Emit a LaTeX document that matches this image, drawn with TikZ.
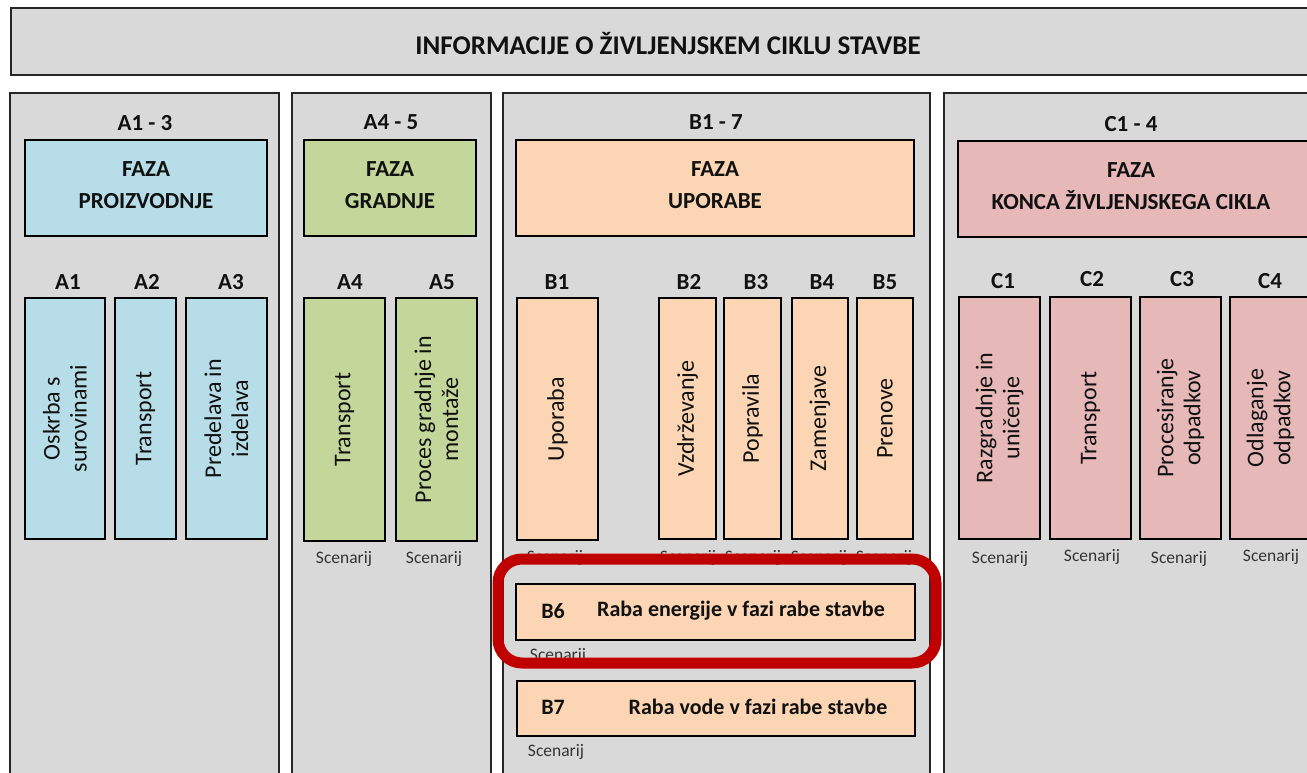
\documentclass[tikz,border=0pt]{standalone}
\usepackage{fontspec}
\setmainfont{Carlito}
\definecolor{pgray}{HTML}{D9D9D9}
\definecolor{cblue}{HTML}{B7DEE8}
\definecolor{cgreen}{HTML}{C4D79B}
\definecolor{corange}{HTML}{FCD5B4}
\definecolor{cpink}{HTML}{E6B8B7}
\definecolor{cred}{HTML}{C00000}
\definecolor{ink}{HTML}{111111}
\tikzset{
  panel/.style={draw=black!85, line width=2pt, fill=pgray},
  hdr/.style={font=\fontsize{23}{28}\selectfont\bfseries, text=ink, inner sep=0pt},
  phase/.style={draw=black, line width=2pt, font=\fontsize{23}{32}\selectfont\bfseries, text=ink, align=center, inner sep=0pt},
  phasetxt/.style={font=\fontsize{23}{32}\selectfont\bfseries, text=ink, align=center, inner sep=0pt},
  subbox/.style={rotate=90, draw=black, line width=2pt, inner sep=0pt, align=center, text=ink,
    font=\fontsize{24}{27}\selectfont},
  scen/.style={font=\fontsize{17.5}{19}\selectfont, text=black!80, inner sep=0pt},
  wide/.style={draw=black, line width=2pt, fill=corange, inner sep=0pt},
  widetxt/.style={font=\fontsize{22}{26}\selectfont\bfseries, text=ink, inner sep=0pt},
  redframe/.style={draw=cred, line width=11pt, rounded corners=24pt}
}
\begin{document}
\begin{tikzpicture}[x=1pt,y=-1pt]
\useasboundingbox (0,0) rectangle (1307,773);
\clip (0,0) rectangle (1307,773);
\fill[white] (0,0) rectangle (1307,773);

% title
\draw[panel] (11,8) rectangle (1340,75);
\node[font=\fontsize{27}{30}\selectfont\bfseries, text=ink, inner sep=0pt] (title) at (668,43) {INFORMACIJE O ŽIVLJENJSKEM CIKLU STAVBE};

% panels
\draw[panel] (10,93) rectangle (279,800);
\draw[panel] (292,93) rectangle (491,800);
\draw[panel] (503,93) rectangle (930,800);
\draw[panel] (944,93) rectangle (1340,800);

% panel labels
\node[hdr] (lA) at (145,123) {A1 - 3};
\node[hdr] (lAb) at (391,122) {A4 - 5};
\node[hdr] (lB) at (716,122) {B1 - 7};
\node[hdr] (lC) at (1131,124) {C1 - 4};

% phase boxes
\draw[draw=black, line width=2pt, fill=cblue] (25,140) rectangle (267,236);
\node[phasetxt] (fA) at (146,185) {FAZA\\PROIZVODNJE};
\draw[draw=black, line width=2pt, fill=cgreen] (304,140) rectangle (476,236);
\node[phasetxt] (fAb) at (390,185) {FAZA\\GRADNJE};
\draw[draw=black, line width=2pt, fill=corange] (516,140) rectangle (914,236);
\node[phasetxt] (fB) at (715,185) {FAZA\\UPORABE};
\draw[draw=black, line width=2pt, fill=cpink] (958,141) rectangle (1340,237);
\node[phasetxt] (fC) at (1131,186) {FAZA\\KONCA ŽIVLJENJSKEGA CIKLA};

% module labels
\node[hdr] (hA1) at (68,282) {A1};
\node[hdr] (hA2) at (147,282) {A2};
\node[hdr] (hA3) at (231,282) {A3};
\node[hdr] (hA4) at (350,282) {A4};
\node[hdr] (hA5) at (442,282) {A5};
\node[hdr] (hB1) at (557,282) {B1};
\node[hdr] (hB2) at (689,282) {B2};
\node[hdr] (hB3) at (756,282) {B3};
\node[hdr] (hB4) at (822,282) {B4};
\node[hdr] (hB5) at (885,282) {B5};
\node[hdr] (hC1) at (1003,281) {C1};
\node[hdr] (hC2) at (1092,279) {C2};
\node[hdr] (hC3) at (1182,279) {C3};
\node[hdr] (hC4) at (1270,281) {C4};

% module boxes
\node[subbox, fill=cblue, minimum width=241pt, minimum height=80pt] (A1) at (65,418.5) {Oskrba s\\surovinami};
\node[subbox, fill=cblue, minimum width=241pt, minimum height=61pt] (A2) at (145.5,418.5) {Transport};
\node[subbox, fill=cblue, minimum width=241pt, minimum height=81pt] (A3) at (226.5,418.5) {Predelava in\\izdelava};
\node[subbox, fill=cgreen, minimum width=243pt, minimum height=81pt] (A4) at (344.5,419.5) {Transport};
\node[subbox, fill=cgreen, minimum width=243pt, minimum height=81pt] (A5) at (436.5,419.5) {Proces gradnje in\\montaže};
\node[subbox, fill=corange, minimum width=242pt, minimum height=81pt] (B1) at (557.5,419) {Uporaba};
\node[subbox, fill=corange, minimum width=241pt, minimum height=57pt] (B2) at (687.5,418.5) {Vzdrževanje};
\node[subbox, fill=corange, minimum width=241pt, minimum height=57pt] (B3) at (752.5,418.5) {Popravila};
\node[subbox, fill=corange, minimum width=241pt, minimum height=56pt] (B4) at (820,418.5) {Zamenjave};
\node[subbox, fill=corange, minimum width=241pt, minimum height=56pt] (B5) at (885,418.5) {Prenove};
\node[subbox, fill=cpink, minimum width=242pt, minimum height=81pt] (C1) at (999.5,418) {Razgradnje in\\uničenje};
\node[subbox, fill=cpink, minimum width=242pt, minimum height=81pt] (C2) at (1090.5,418) {Transport};
\node[subbox, fill=cpink, minimum width=242pt, minimum height=81pt] (C3) at (1180.5,418) {Procesiranje\\odpadkov};
\node[subbox, fill=cpink, minimum width=242pt, minimum height=81pt] (C4) at (1270.5,418) {Odlaganje\\odpadkov};

% scenario labels
\node[scen] (sA4) at (344,559) {Scenarij};
\node[scen] (sA5) at (434,559) {Scenarij};
\node[scen] (sB1) at (555,558) {Scenarij};
\node[scen] (sB2) at (688,558) {Scenarij};
\node[scen] (sB3) at (753,558) {Scenarij};
\node[scen] (sB4) at (819,558) {Scenarij};
\node[scen] (sB5) at (884,558) {Scenarij};
\node[scen] (sC1) at (1000,559) {Scenarij};
\node[scen] (sC2) at (1092,557) {Scenarij};
\node[scen] (sC3) at (1179,559) {Scenarij};
\node[scen] (sC4) at (1271,557) {Scenarij};

% B6 / B7
\node[wide, minimum width=399pt, minimum height=56pt] (B6) at (715.5,612) {};
\node[widetxt] (B6id) at (553,611) {B6};
\node[widetxt] (B6t) at (741,611) {Raba energije v fazi rabe stavbe};
\node[scen] (sB6) at (558,656) {Scenarij};
\node[wide, minimum width=398pt, minimum height=55pt] (B7) at (716,708.5) {};
\node[widetxt] (B7id) at (553,707) {B7};
\node[widetxt] (B7t) at (758,707) {Raba vode v fazi rabe stavbe};
\node[scen] (sB7) at (556,752) {Scenarij};

% highlight
\draw[redframe] (498,559) rectangle (936,663);
\end{tikzpicture}
\end{document}
